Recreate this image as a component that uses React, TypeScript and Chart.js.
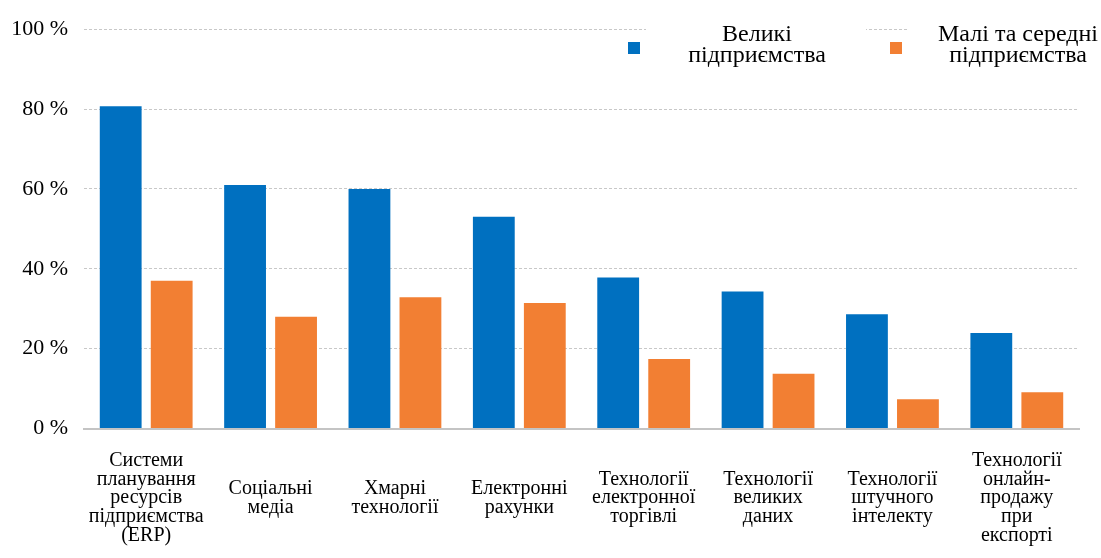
import React, { useEffect, useRef } from "react";
import { Chart, registerables } from "chart.js";

Chart.register(...registerables);

const categories: string[][] = [
  ["Системи", "планування", "ресурсів", "підприємства", "(ERP)"],
  ["Соціальні", "медіа"],
  ["Хмарні", "технології"],
  ["Електронні", "рахунки"],
  ["Технології", "електронної", "торгівлі"],
  ["Технології", "великих", "даних"],
  ["Технології", "штучного", "інтелекту"],
  ["Технології", "онлайн-", "продажу", "при", "експорті"],
];

const largeEnterprises = [80.7, 61, 60, 53, 37.8, 34.3, 28.6, 23.9];
const smeEnterprises = [37, 28, 32.9, 31.4, 17.4, 13.7, 7.3, 9.1];

const seriesLabels = [
  ["Великі", "підприємства"],
  ["Малі та середні", "підприємства"],
];

const BLUE = "#0070c0";
const ORANGE = "#f27f33";
const SERIF = "'Liberation Serif', 'Times New Roman', serif";

// Legend with two-line labels, placed in the top-right corner over the top gridline
const legendPlugin = {
  id: "twoLineLegend",
  afterDraw(chart: Chart) {
    const ctx = chart.ctx;
    const items = [
      { color: BLUE, box: [628, 42], text: seriesLabels[0], cx: 757, bg: [646, 16, 220, 56] },
      { color: ORANGE, box: [890, 42], text: seriesLabels[1], cx: 1018, bg: [908, 16, 180, 56] },
    ];
    ctx.save();
    for (const it of items) {
      ctx.fillStyle = "#ffffff";
      ctx.fillRect(it.bg[0], it.bg[1], it.bg[2], it.bg[3]);
      ctx.fillStyle = it.color;
      ctx.fillRect(it.box[0], it.box[1], 12, 12);
      ctx.fillStyle = "#000000";
      ctx.font = `24px ${SERIF}`;
      ctx.textAlign = "center";
      ctx.textBaseline = "middle";
      it.text.forEach((line, i) => ctx.fillText(line, it.cx, 35 + i * 21));
    }
    ctx.restore();
  },
};

export default function App() {
  const ref = useRef<HTMLCanvasElement | null>(null);

  useEffect(() => {
    if (!ref.current) return;
    const chart = new Chart(ref.current, {
      type: "bar",
      data: {
        labels: categories,
        datasets: [
          {
            label: seriesLabels[0].join(" "),
            data: largeEnterprises,
            backgroundColor: BLUE,
            categoryPercentage: 0.82,
            barPercentage: 0.82,
          },
          {
            label: seriesLabels[1].join(" "),
            data: smeEnterprises,
            backgroundColor: ORANGE,
            categoryPercentage: 0.82,
            barPercentage: 0.82,
          },
        ],
      },
      options: {
        responsive: false,
        animation: false,
        layout: { padding: { top: 26, right: 22, left: 0, bottom: 0 } },
        plugins: {
          legend: { display: false },
          tooltip: { enabled: false },
        },
        scales: {
          x: {
            grid: { display: false },
            border: { display: true, color: "#c4c4c4", width: 2 },
            ticks: {
              color: "#000000",
              font: { family: SERIF, size: 20, lineHeight: 0.94 },
              maxRotation: 0,
              autoSkip: false,
              padding: 24,
              crossAlign: "center",
            },
            afterFit(scale: any) {
              scale.height = 129.5;
            },
          },
          y: {
            min: 0,
            max: 100,
            border: { display: false, dash: [3, 2] },
            grid: {
              color: "#c8c8c8",
              lineWidth: 1,
              drawTicks: false,
            },
            ticks: {
              stepSize: 20,
              color: "#000000",
              padding: 16,
              font: { family: SERIF, size: 22 },
              callback: (v: any) => `${v} %`,
            },
            afterFit(scale: any) {
              scale.width = 84;
            },
          },
        },
      },
      plugins: [legendPlugin],
    });
    return () => chart.destroy();
  }, []);

  return (
    <div style={{ position: "fixed", left: 0, top: 0, width: 1101, height: 558, background: "#ffffff" }}>
      <canvas ref={ref} width={1101} height={558} />
    </div>
  );
}
